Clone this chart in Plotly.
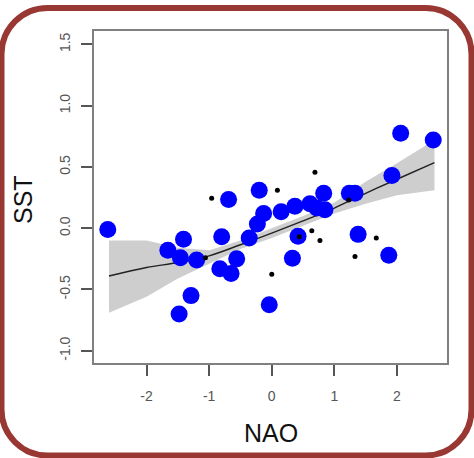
import plotly.graph_objects as go

# ---- data ----
blue_x = [-2.62, 2.06, 2.58, 1.92, -0.20, -0.69, 0.83, 1.24, 1.33, 0.15, 0.37, 0.61,
          0.72, 0.85, -0.13, -0.23, -0.36, -0.80, -1.41, -1.66, -1.46, -1.20, -0.56,
          -0.83, -0.65, -1.29, -1.48, -0.04, 0.33, 0.42, 1.38, 1.87]
blue_y = [-0.01, 0.775, 0.72, 0.43, 0.31, 0.235, 0.285, 0.285, 0.285, 0.135, 0.18, 0.20,
          0.165, 0.15, 0.12, 0.035, -0.08, -0.07, -0.09, -0.18, -0.24, -0.26, -0.25,
          -0.33, -0.37, -0.55, -0.70, -0.625, -0.245, -0.065, -0.05, -0.22]

black_x = [-0.96, 0.09, 0.69, 0.64, 0.77, 1.67, 1.33, 0.00, -1.06, 0.44, 1.23]
black_y = [0.245, 0.31, 0.457, -0.02, -0.10, -0.08, -0.23, -0.375, -0.24, -0.07, 0.23]

fit_x = [-2.6, -2.0, -1.5, -1.0, -0.5, 0.0, 0.5, 1.0, 1.5, 2.0, 2.6]
fit_y = [-0.39, -0.32, -0.28, -0.225, -0.135, -0.04, 0.06, 0.165, 0.285, 0.40, 0.535]
fit_hi = [-0.10, -0.10, -0.16, -0.18, -0.10, 0.00, 0.10, 0.21, 0.38, 0.53, 0.72]
fit_lo = [-0.69, -0.56, -0.41, -0.29, -0.17, -0.08, 0.02, 0.12, 0.20, 0.27, 0.31]

x_ticks = [-2, -1, 0, 1, 2]
x_tick_text = ["-2", "-1", "0", "1", "2"]
y_ticks = [-1.0, -0.5, 0.0, 0.5, 1.0, 1.5]
y_tick_text = ["-1.0", "-0.5", "0.0", "0.5", "1.0", "1.5"]

# ---- layout geometry ----
W, H = 474, 458
ML, MR, MT, MB = 94, 27, 31, 95
PW, PH = W - ML - MR, H - MT - MB


def px(xp):
    return (xp - ML) / PW


def py(yp):
    return (H - MB - yp) / PH


fig = go.Figure()

fig.add_trace(go.Scatter(x=fit_x + fit_x[::-1], y=fit_hi + fit_lo[::-1], fill="toself",
                         fillcolor="rgba(165,165,165,0.55)", line=dict(width=0),
                         hoverinfo="skip", showlegend=False, mode="lines"))
fig.add_trace(go.Scatter(x=fit_x, y=fit_y, mode="lines", line=dict(color="#222222", width=1.4),
                         line_shape="spline", showlegend=False))
fig.add_trace(go.Scatter(x=blue_x, y=blue_y, mode="markers",
                         marker=dict(color="#0000FF", size=17, line=dict(width=0)), showlegend=False))
fig.add_trace(go.Scatter(x=black_x, y=black_y, mode="markers",
                         marker=dict(color="#000000", size=5, line=dict(width=0)), showlegend=False))

axis_font = dict(family="Liberation Sans, Arial, sans-serif", size=14, color="#555555")

fig.update_xaxes(range=[-2.84, 2.80], tickvals=x_ticks, ticktext=x_tick_text,
                 showgrid=False, zeroline=False, showline=True, mirror=True,
                 linecolor="#808080", linewidth=1.6, ticks="outside", ticklen=11,
                 tickwidth=1.5, tickcolor="#555555", tickfont=axis_font, ticklabelstandoff=8)
fig.update_yaxes(range=[-1.10, 1.61], tickvals=y_ticks, ticktext=y_tick_text,
                 showgrid=False, zeroline=False, showline=True, mirror=True,
                 linecolor="#808080", linewidth=1.6, ticks="outside", ticklen=11,
                 tickwidth=1.5, tickcolor="#555555", tickfont=axis_font, tickangle=-90,
                 ticklabelstandoff=6)

# rounded border
L, T, R, B, r = 1.5, 8, 471.5, 455.5, 46
k = 0.5523 * r


def P(x, y):
    return f"{px(x):.5f},{py(y):.5f}"


path = (f"M {P(L + r, T)} L {P(R - r, T)} "
        f"C {P(R - r + k, T)} {P(R, T + r - k)} {P(R, T + r)} "
        f"L {P(R, B - r)} "
        f"C {P(R, B - r + k)} {P(R - r + k, B)} {P(R - r, B)} "
        f"L {P(L + r, B)} "
        f"C {P(L + r - k, B)} {P(L, B - r + k)} {P(L, B - r)} "
        f"L {P(L, T + r)} "
        f"C {P(L, T + r - k)} {P(L + r - k, T)} {P(L + r, T)} Z")
fig.add_shape(type="path", path=path, xref="paper", yref="paper",
              line=dict(color="#993833", width=6), layer="above")

title_font = dict(family="Liberation Sans, Arial, sans-serif", size=25, color="#111111")
fig.add_annotation(text="NAO", x=px(271), y=py(433), xref="paper", yref="paper",
                   showarrow=False, xanchor="center", yanchor="middle", font=title_font)
fig.add_annotation(text="SST", x=px(23), y=py(200), xref="paper", yref="paper",
                   showarrow=False, xanchor="center", yanchor="middle", textangle=-90,
                   font=title_font)

fig.update_layout(width=W, height=H, margin=dict(l=ML, r=MR, t=MT, b=MB),
                  paper_bgcolor="white", plot_bgcolor="white", showlegend=False)

fig.write_html("out.html", config={"displayModeBar": False},
               post_script="document.body.style.margin='0';document.body.style.overflow='hidden';")
